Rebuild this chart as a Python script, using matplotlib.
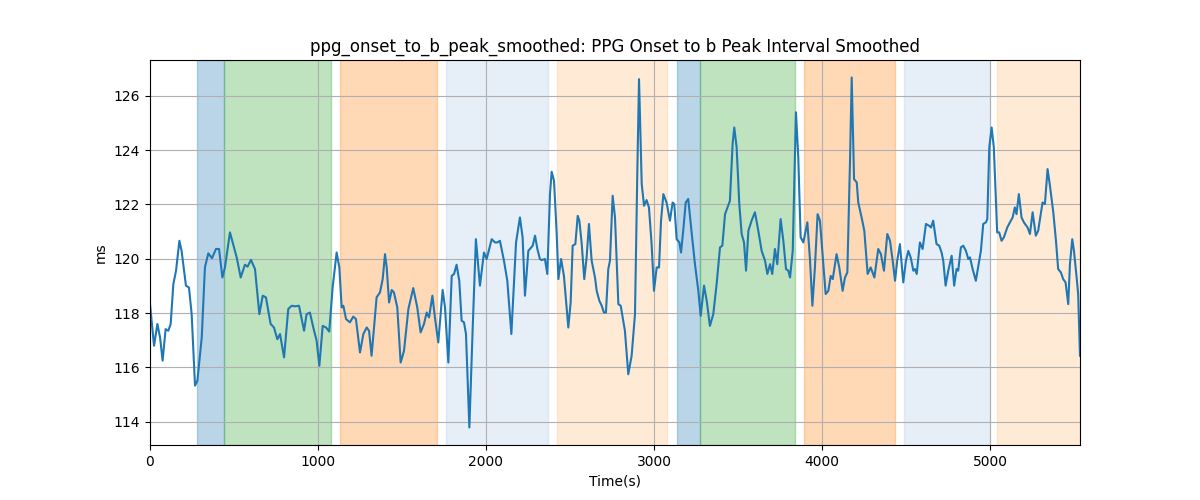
import numpy as np
import matplotlib.pyplot as plt

# Time axis (s) and smoothed interval (ms)
time_s = [0, 24, 44, 60, 75, 93, 109, 123, 139, 155, 175, 188, 214, 232, 248, 268, 282, 308, 327, 347,
          369, 393, 411, 431, 446, 476, 516, 540, 565, 581, 601, 625, 651, 671, 690, 718, 738, 758, 774, 798,
          823, 843, 863, 887, 917, 932, 952, 972, 992, 1008, 1028, 1048, 1067, 1087, 1111, 1127, 1141, 1151, 1167, 1190,
          1210, 1226, 1250, 1270, 1290, 1304, 1319, 1349, 1369, 1385, 1399, 1409, 1423, 1439, 1452, 1472, 1492, 1512, 1538, 1567,
          1591, 1611, 1631, 1647, 1661, 1681, 1696, 1716, 1742, 1756, 1776, 1796, 1810, 1825, 1841, 1855, 1869, 1881, 1901, 1921,
          1940, 1964, 1988, 2004, 2034, 2054, 2067, 2083, 2107, 2127, 2151, 2179, 2202, 2218, 2232, 2252, 2278, 2292, 2306, 2321,
          2331, 2351, 2365, 2381, 2391, 2405, 2421, 2431, 2447, 2464, 2490, 2504, 2516, 2532, 2546, 2556, 2570, 2585, 2599, 2613,
          2629, 2649, 2659, 2675, 2689, 2702, 2714, 2728, 2738, 2754, 2768, 2788, 2802, 2827, 2847, 2867, 2887, 2901, 2911, 2927,
          2941, 2956, 2970, 2986, 3000, 3016, 3030, 3042, 3056, 3075, 3095, 3111, 3121, 3135, 3151, 3161, 3175, 3189, 3204, 3224,
          3244, 3264, 3278, 3298, 3314, 3333, 3353, 3373, 3393, 3407, 3423, 3452, 3468, 3478, 3492, 3508, 3522, 3536, 3548, 3562,
          3581, 3601, 3621, 3641, 3661, 3675, 3691, 3704, 3720, 3734, 3754, 3770, 3786, 3800, 3810, 3826, 3845, 3859, 3873, 3889,
          3913, 3929, 3943, 3958, 3974, 3988, 4008, 4022, 4038, 4052, 4064, 4087, 4103, 4123, 4137, 4151, 4167, 4177, 4191, 4207,
          4216, 4236, 4252, 4272, 4290, 4312, 4335, 4351, 4369, 4389, 4405, 4421, 4435, 4448, 4464, 4484, 4500, 4514, 4528, 4544,
          4554, 4564, 4583, 4599, 4619, 4639, 4649, 4662, 4682, 4698, 4712, 4722, 4736, 4752, 4772, 4787, 4801, 4811, 4827, 4841,
          4857, 4871, 4881, 4897, 4916, 4934, 4946, 4960, 4976, 4984, 4996, 5010, 5023, 5043, 5055, 5069, 5083, 5103, 5119, 5135,
          5148, 5158, 5172, 5188, 5202, 5224, 5238, 5254, 5273, 5287, 5313, 5327, 5343, 5357, 5377, 5393, 5406, 5422, 5436, 5450,
          5466, 5476, 5490, 5500, 5516, 5525, 5536]
interval_ms = [118.33, 116.80, 117.60, 117.10, 116.25, 117.41, 117.35, 117.60, 119.07, 119.56, 120.66, 120.29, 119.01, 118.94, 117.96, 115.33, 115.51, 117.10, 119.68, 120.20,
               120.02, 120.36, 120.36, 119.31, 119.68, 120.97, 120.05, 119.31, 119.78, 119.71, 119.96, 119.62, 117.96, 118.64, 118.58, 117.60, 117.47, 117.04, 117.23, 116.37,
               118.15, 118.27, 118.25, 118.27, 117.35, 117.96, 118.02, 117.47, 116.98, 116.06, 117.53, 117.47, 117.32, 118.94, 120.23, 119.68, 118.21, 118.27, 117.78, 117.66,
               117.87, 117.78, 116.55, 117.23, 117.47, 117.35, 116.43, 118.58, 118.76, 119.25, 120.17, 119.68, 118.39, 118.85, 118.76, 118.21, 116.18, 116.61, 118.15, 118.92,
               118.21, 117.29, 117.60, 118.02, 117.84, 118.64, 117.84, 116.92, 118.85, 118.21, 116.18, 119.37, 119.44, 119.78, 119.19, 117.72, 117.66, 117.23, 113.79, 117.47,
               120.72, 119.01, 120.23, 119.99, 120.72, 120.60, 120.60, 120.66, 119.93, 119.19, 117.23, 120.60, 121.52, 120.79, 118.64, 120.29, 120.48, 120.85, 120.36, 119.99,
               119.95, 119.99, 119.44, 122.38, 123.20, 122.87, 120.91, 119.25, 119.99, 119.37, 117.47, 118.39, 120.48, 120.54, 121.58, 121.40, 120.54, 119.25, 120.05, 121.28,
               119.93, 119.31, 118.82, 118.45, 118.27, 118.02, 118.02, 119.62, 119.93, 122.32, 121.52, 118.33, 118.27, 117.35, 115.75, 116.43, 117.96, 123.24, 126.61, 122.75,
               121.95, 122.16, 121.89, 120.54, 118.82, 119.68, 119.68, 121.40, 122.38, 122.07, 121.40, 122.07, 122.01, 120.72, 120.60, 120.23, 121.09, 122.07, 122.20, 120.97,
               119.80, 118.82, 117.90, 119.01, 118.45, 117.53, 117.96, 119.07, 120.42, 120.48, 121.64, 122.13, 124.22, 124.83, 124.10, 122.01, 120.91, 120.60, 119.56, 121.03,
               121.40, 121.71, 121.03, 120.29, 119.93, 119.44, 119.80, 119.44, 120.36, 119.80, 121.46, 120.66, 119.62, 119.56, 119.31, 120.29, 125.39, 123.73, 120.79, 120.60,
               121.34, 119.93, 118.27, 119.68, 121.64, 121.40, 119.80, 118.70, 118.82, 119.37, 119.25, 120.17, 119.68, 118.82, 119.31, 119.50, 123.61, 126.67, 122.93, 122.81,
               122.07, 121.52, 121.03, 119.44, 119.68, 119.31, 120.36, 120.17, 119.56, 120.91, 120.66, 119.93, 119.19, 119.93, 120.54, 119.13, 119.93, 120.29, 120.05, 119.56,
               119.62, 119.44, 120.60, 120.36, 121.28, 121.21, 121.15, 121.40, 120.54, 120.48, 120.23, 119.93, 119.01, 119.56, 120.11, 119.01, 119.62, 119.56, 120.42, 120.48,
               120.29, 119.99, 120.05, 119.62, 119.19, 119.86, 120.29, 121.28, 121.34, 121.46, 124.10, 124.83, 124.10, 120.97, 120.97, 120.66, 120.79, 121.15, 121.34, 121.52,
               121.89, 121.64, 122.38, 121.52, 121.34, 121.15, 120.91, 121.71, 120.85, 121.03, 122.07, 122.01, 123.30, 122.69, 121.71, 120.66, 119.62, 119.50, 119.25, 119.13,
               118.33, 119.80, 120.72, 120.29, 119.31, 118.70, 116.43]

# Shaded segments (start, end) and their colours
span_starts = [280, 440, 1131, 1762, 2423, 3137, 3274, 3893, 4488, 5042]
span_ends = [440, 1077, 1708, 2369, 3077, 3274, 3839, 4435, 5000, 5536]
span_colors = ['tab:blue', 'tab:green', 'tab:orange', '#aec7e8', '#ffbb78',
               'tab:blue', 'tab:green', 'tab:orange', '#aec7e8', '#ffbb78']

fig, ax = plt.subplots(figsize=(12, 5), dpi=100)

for start, end, c in zip(span_starts, span_ends, span_colors):
    ax.axvspan(start, end, color=c, alpha=0.3)

ax.plot(time_s, interval_ms, color='tab:blue')
ax.set_xlim(time_s[0], time_s[-1])
ax.set_title('ppg_onset_to_b_peak_smoothed: PPG Onset to b Peak Interval Smoothed')
ax.set_xlabel('Time(s)')
ax.set_ylabel('ms')
ax.grid(True)

fig.savefig('out.png')
